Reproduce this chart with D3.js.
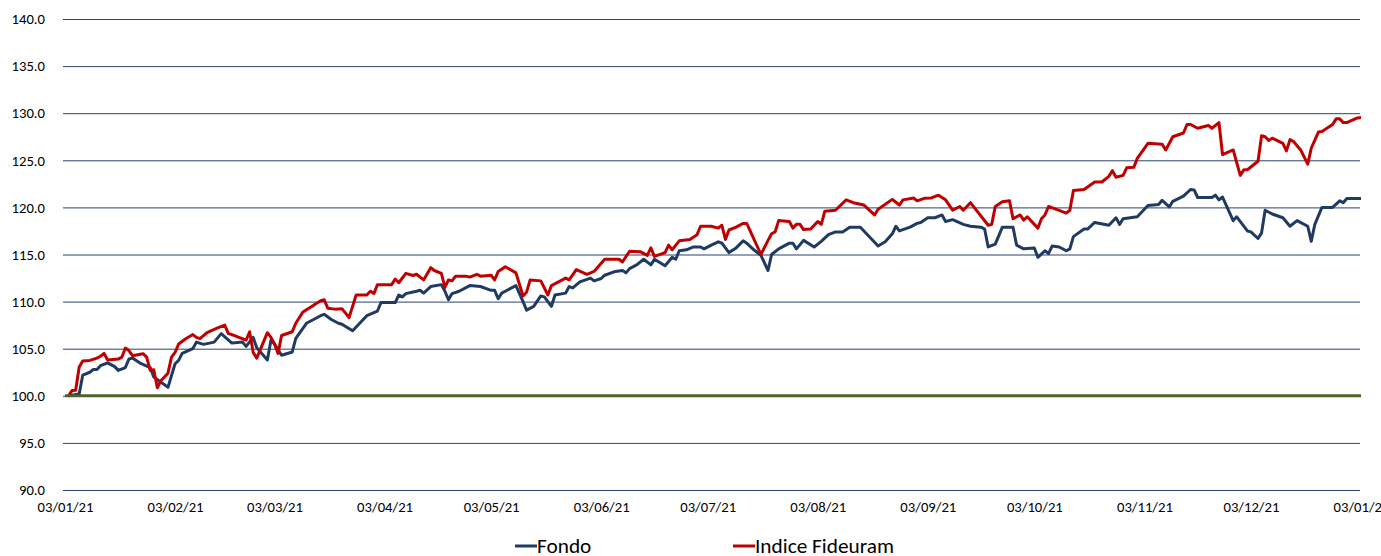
<!DOCTYPE html>
<html>
<head>
<meta charset="utf-8">
<script src="https://cdn.jsdelivr.net/npm/d3@7"></script>
<style>
  html, body { margin: 0; padding: 0; background: #ffffff; }
  svg { display: block; }
  text { font-family: Calibri, Carlito, "Liberation Sans", Arial, sans-serif; fill: #000; }
</style>
</head>
<body>
<svg id="chart" width="1381" height="556"></svg>
<script>
// ---- data ----
const startDate = "2021-01-03";           // day 0
const endDate = "2022-01-03";
const seriesNames = ["Fondo", "Indice Fideuram"];
const baselineValue = 100;

const yTicks = [90, 95, 100, 105, 110, 115, 120, 125, 130, 135, 140];
const xTickDates = ["2021-01-03", "2021-02-03", "2021-03-03", "2021-04-03", "2021-05-03", "2021-06-03",
  "2021-07-03", "2021-08-03", "2021-09-03", "2021-10-03", "2021-11-03", "2021-12-03", "2022-01-03"];

// [day offset from startDate, value]
const fondo = [
  [1,100.0],[4,100.2],[5,102.2],[7,102.5],[8,102.8],[9,102.8],[10,103.2],[12,103.5],[14,103.1],[15,102.7],
  [17,103.0],[18,103.9],[19,104.0],[21,103.5],[24,103.0],[25,102.0],[27,101.45],[29,100.9],[31,103.4],[32,103.76],
  [33,104.5],[36,105.0],[37,105.7],[39,105.46],[42,105.7],[44,106.6],[47,105.6],[50,105.7],[51,105.25],[53,106.2],
  [54,105.1],[57,103.8],[58,105.9],[59,105.5],[61,104.3],[64,104.65],[65,106.1],[68,107.7],[70,108.1],[72,108.5],
  [73,108.65],[75,108.1],[77,107.7],[78,107.6],[81,106.9],[83,107.7],[85,108.5],[88,109.0],[89,109.9],[93,109.9],
  [94,110.7],[95,110.5],[96,110.85],[99,111.1],[100,111.2],[101,110.9],[103,111.6],[106,111.8],[107,111.1],[108,110.2],
  [109,110.85],[111,111.1],[114,111.7],[117,111.6],[120,111.2],[121,111.2],[122,110.3],[123,110.9],[124,111.1],[127,111.7],
  [129,110.0],[130,109.1],[132,109.5],[134,110.6],[135,110.5],[137,109.5],[138,110.7],[141,110.9],[142,111.6],[143,111.45],
  [145,112.1],[148,112.5],[149,112.2],[151,112.45],[152,112.8],[155,113.2],[157,113.3],[158,113.05],[159,113.5],[161,113.9],
  [163,114.5],[165,113.9],[166,114.5],[169,113.8],[171,114.7],[172,114.5],[173,115.4],[175,115.5],[177,115.8],[179,115.8],
  [180,115.6],[182,116.0],[184,116.35],[185,116.2],[187,115.2],[189,115.7],[191,116.45],[192,116.2],[194,115.5],[196,114.9],
  [198,113.3],[199,115.0],[201,115.6],[204,116.2],[205,116.2],[206,115.6],[208,116.5],[211,115.8],[213,116.4],[215,117.1],
  [217,117.4],[219,117.4],[221,117.9],[224,117.9],[229,115.9],[231,116.35],[233,117.2],[234,118.0],[235,117.5],[238,117.9],
  [240,118.3],[241,118.4],[243,118.9],[245,118.9],[247,119.2],[248,118.5],[250,118.7],[253,118.2],[255,118.0],[258,117.9],
  [259,117.7],[260,115.8],[262,116.1],[264,117.9],[267,117.9],[268,116.0],[270,115.6],[273,115.7],[274,114.7],[276,115.4],
  [277,115.1],[278,115.9],[280,115.8],[282,115.4],[283,115.6],[284,116.9],[287,117.7],[288,117.7],[290,118.4],[294,118.1],
  [296,118.9],[297,118.2],[298,118.8],[302,119.0],[305,120.2],[308,120.3],[309,120.75],[311,120.05],[312,120.65],[315,121.2],
  [317,121.9],[318,121.85],[319,121.05],[323,121.05],[324,121.3],[325,120.8],[326,121.1],[329,118.6],[330,119.0],[333,117.5],
  [334,117.4],[336,116.7],[337,117.3],[338,119.7],[340,119.3],[343,118.9],[345,118.0],[347,118.6],[350,118.0],[351,116.4],
  [352,118.2],[354,120.0],[357,120.0],[359,120.7],[360,120.5],[361,120.95],[365,120.95]
];

const indice = [
  [1,100.0],[2,100.57],[3,100.6],[4,103.05],[5,103.7],[7,103.76],[9,104.0],[10,104.2],[11,104.5],[12,103.8],
  [15,103.9],[16,104.1],[17,105.07],[18,104.8],[19,104.26],[22,104.47],[23,104.1],[24,102.7],[25,102.77],[26,100.85],
  [27,101.6],[29,102.4],[30,104.1],[31,104.6],[32,105.5],[34,106.06],[36,106.5],[37,106.2],[38,106.06],[40,106.7],
  [43,107.2],[45,107.5],[46,106.6],[47,106.5],[51,105.9],[52,106.8],[53,104.6],[54,104.0],[57,106.7],[58,106.2],
  [59,105.5],[60,104.5],[61,106.4],[64,106.8],[65,107.7],[67,108.9],[70,109.6],[72,110.1],[73,110.2],[74,109.3],
  [76,109.2],[78,109.25],[80,108.3],[82,110.7],[85,110.7],[86,111.1],[87,110.85],[88,111.8],[92,111.8],[93,112.4],
  [94,112.0],[96,113.0],[98,112.77],[99,112.9],[101,112.3],[103,113.6],[104,113.3],[106,113.0],[107,111.5],[108,112.3],
  [109,112.2],[110,112.7],[113,112.7],[114,112.6],[116,112.9],[117,112.7],[120,112.8],[121,112.3],[122,113.2],[124,113.7],
  [127,113.05],[129,110.6],[130,111.0],[131,112.3],[134,112.2],[136,110.7],[137,111.7],[139,112.1],[141,112.5],[142,112.3],
  [144,113.4],[147,112.9],[149,113.2],[152,114.5],[156,114.5],[157,114.2],[159,115.35],[162,115.3],[164,114.9],[165,115.7],
  [166,114.8],[169,115.2],[170,116.0],[171,115.5],[173,116.45],[176,116.6],[178,117.1],[179,118.0],[182,118.0],[184,117.8],
  [185,118.1],[186,116.6],[187,117.6],[189,117.9],[191,118.3],[192,118.3],[196,115.0],[198,116.5],[199,117.2],[200,117.4],
  [201,118.6],[204,118.5],[205,117.8],[206,118.2],[207,118.2],[208,117.65],[210,117.7],[212,118.5],[213,118.2],[214,119.6],
  [217,119.7],[220,120.8],[222,120.5],[225,120.25],[228,119.2],[229,119.8],[233,120.85],[235,120.25],[236,120.8],[239,121.0],
  [240,120.7],[242,120.96],[244,121.0],[246,121.3],[248,120.8],[250,119.7],[252,120.1],[253,119.7],[255,120.5],[260,118.1],
  [261,118.2],[262,120.1],[264,120.6],[266,120.7],[267,118.8],[269,119.2],[270,118.65],[271,119.0],[274,117.8],[275,118.8],
  [276,119.2],[277,120.1],[282,119.4],[283,119.7],[284,121.8],[287,121.9],[290,122.7],[292,122.7],[294,123.3],[295,123.9],
  [296,123.2],[298,123.4],[299,124.2],[301,124.25],[302,125.2],[305,126.8],[309,126.7],[310,126.1],[312,127.5],[315,127.9],
  [316,128.8],[317,128.8],[319,128.4],[322,128.7],[323,128.4],[325,129.0],[326,125.6],[329,126.1],[331,123.4],[332,124.0],
  [333,124.0],[336,124.9],[337,127.6],[338,127.5],[339,127.1],[340,127.35],[343,126.8],[344,126.0],[345,127.2],[346,127.0],
  [348,126.1],[350,124.6],[351,126.3],[353,128.0],[354,128.05],[357,128.8],[358,129.4],[359,129.4],[360,129.0],[361,129.0],
  [364,129.5],[365,129.55]
];

const colors = { fondo: "#1F3A63", indice: "#C00000", baseline: "#4F6228", grid: "#1F3864" };

// ---- chart ----
(function () {
const parse = d3.timeParse("%Y-%m-%d");
const t0 = parse(startDate), t1 = parse(endDate);
const toDate = d => d3.timeDay.offset(t0, d);

const gridLeft = 63, gridRight = 1360, plotStart = 65, plotEnd = 1361, plotTop = 19, plotBottom = 490;
const x = d3.scaleTime().domain([t0, t1]).range([plotStart, plotEnd]);
const y = d3.scaleLinear().domain([90, 140]).range([plotBottom, plotTop]);

const svg = d3.select("#chart");

// Y axis with gridlines
const yAxis = svg.append("g")
  .attr("transform", `translate(${gridLeft},0)`)
  .call(d3.axisLeft(y).tickValues(yTicks).tickFormat(d3.format(".1f"))
    .tickSize(-(gridRight - gridLeft)).tickPadding(18));
yAxis.select(".domain").remove();
yAxis.selectAll(".tick line").attr("stroke", colors.grid).attr("stroke-width", 1).attr("opacity", 0.95);
yAxis.selectAll(".tick text").style("font-size", "14.67px").attr("fill", "#000");

// X axis labels
const xAxis = svg.append("g")
  .attr("transform", `translate(0,${plotBottom})`)
  .call(d3.axisBottom(x).tickValues(xTickDates.map(parse)).tickFormat(d3.timeFormat("%d/%m/%y"))
    .tickSize(0).tickPadding(12));
xAxis.select(".domain").remove();
xAxis.selectAll(".tick text").style("font-size", "14.67px").attr("fill", "#000");

const line = d3.line().x(d => x(toDate(d[0]))).y(d => y(d[1]));

svg.append("path").datum(fondo)
  .attr("d", line).attr("fill", "none").attr("stroke", colors.fondo)
  .attr("stroke-width", 3).attr("stroke-linejoin", "round");

svg.append("path").datum(indice)
  .attr("d", line).attr("fill", "none").attr("stroke", colors.indice)
  .attr("stroke-width", 3).attr("stroke-linejoin", "round");

svg.append("line")
  .attr("x1", x(t0)).attr("x2", x(t1))
  .attr("y1", y(baselineValue)).attr("y2", y(baselineValue))
  .attr("stroke", colors.baseline).attr("stroke-width", 3);

// Legend
const legend = svg.append("g");
const legendItems = [
  { name: seriesNames[0], color: colors.fondo, x: 515 },
  { name: seriesNames[1], color: colors.indice, x: 733 }
];
legendItems.forEach(it => {
  legend.append("line").attr("x1", it.x).attr("x2", it.x + 22)
    .attr("y1", 546).attr("y2", 546).attr("stroke", it.color).attr("stroke-width", 3);
  legend.append("text").attr("x", it.x + 22).attr("y", 553)
    .style("font-size", "21.3px").text(it.name);
});
})();
</script>
</body>
</html>
